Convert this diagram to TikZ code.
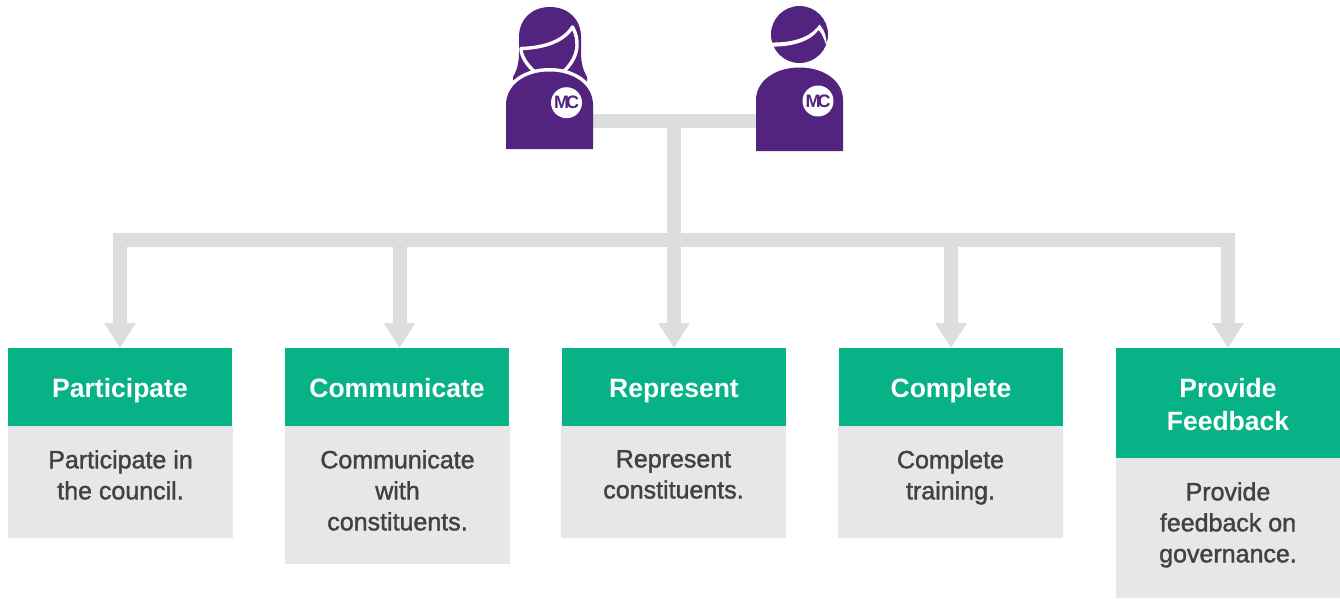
\documentclass[tikz,border=0pt]{standalone}
\usepackage{fontspec}
\setmainfont{Liberation Sans}
\newfontfamily\bodyfont[FakeBold=1.4]{Liberation Sans}
\usetikzlibrary{arrows.meta}
\definecolor{mcpurple}{HTML}{52247F}
\definecolor{mcgreen}{HTML}{08B287}
\definecolor{mcgray}{HTML}{E6E7E8}
\definecolor{mcline}{HTML}{DCDDDE}
\definecolor{mctext}{HTML}{414042}
\tikzset{
  headbox/.style={fill=mcgreen,minimum width=224pt,inner sep=0pt,anchor=north},
  headtext/.style={text=white,inner sep=0pt,anchor=north,align=center,font=\bfseries\fontsize{26.5}{33}\selectfont,execute at begin node=\strut,execute at end node=\strut},
  bodybox/.style={fill=mcgray,minimum width=225pt,inner sep=0pt,anchor=north},
  bodytext/.style={text=mctext,inner sep=0pt,anchor=north,align=center,font=\bodyfont\fontsize{25}{31}\selectfont,execute at begin node=\strut,execute at end node=\strut},
  conn/.style={draw=mcline,line width=14pt},
  connarrow/.style={conn,-{Triangle[length=25pt,width=30pt]}},
  whiteline/.style={draw=white,line width=3.4pt,line join=round},
  logotext/.style={text=mcpurple,inner sep=0pt,font=\bfseries\fontsize{18}{18}\selectfont}
}
\begin{document}
\begin{tikzpicture}[x=1pt,y=-1pt]
    \useasboundingbox (0,0) rectangle (1340,598);
    \coordinate (womanside) at (593,121);
    \coordinate (manside) at (756,121);
    \coordinate (trunktop) at (674,128);
    \coordinate (trunkend) at (674,240);
    \coordinate (bus1) at (120,240);
    \coordinate (bus2) at (399.5,240);
    \coordinate (bus3) at (674,240);
    \coordinate (bus4) at (951,240);
    \coordinate (bus5) at (1228,240);
    % Cajas
    \node[bodybox,minimum height=112pt] (participatebox) at (120.5,426) {};
    \node[bodybox,minimum height=138pt] (communicatebox) at (397.5,426) {};
    \node[bodybox,minimum height=112pt] (representbox) at (673.5,426) {};
    \node[bodybox,minimum height=112pt] (completebox) at (950.5,426) {};
    \node[bodybox,minimum height=140pt,minimum width=224pt] (feedbackbox) at (1228,458) {};
    \node[headbox,minimum height=78pt] (participate) at (120,348) {};
    \node[headbox,minimum height=78pt] (communicate) at (397,348) {};
    \node[headbox,minimum height=78pt] (represent) at (674,348) {};
    \node[headbox,minimum height=78pt] (complete) at (951,348) {};
    \node[headbox,minimum height=110pt] (feedback) at (1228,348) {};
    % Textos
    \node[headtext] (participatehead) at ([yshift=-26.4pt]participate.north) {Participate};
    \node[headtext] (communicatehead) at ([yshift=-26.4pt]communicate.north) {Communicate};
    \node[headtext] (representhead) at ([yshift=-26.4pt]represent.north) {Represent};
    \node[headtext] (completehead) at ([yshift=-26.4pt]complete.north) {Complete};
    \node[headtext] (feedbackhead) at ([yshift=-29.9pt]feedback.north) {Provide\\Feedback};
    \node[bodytext] (participatetext) at ([yshift=-24pt]participatebox.north) {Participate in\\the council.};
    \node[bodytext] (communicatetext) at ([yshift=-24pt]communicatebox.north) {Communicate\\with\\constituents.};
    \node[bodytext] (representtext) at ([yshift=-24pt]representbox.north) {Represent\\constituents.};
    \node[bodytext] (completetext) at ([yshift=-24pt]completebox.north) {Complete\\training.};
    \node[bodytext] (feedbacktext) at ([yshift=-24pt]feedbackbox.north) {Provide\\feedback on\\governance.};
    % Líneas
    \draw[conn] (womanside) -- (manside);
    \draw[conn] (trunktop) -- (trunkend);
    \draw[conn,line cap=rect] (bus1) -- (bus5);
    \draw[connarrow] (bus1) -- (participate.north);
    \draw[connarrow] (bus2) -- (bus2 |- communicate.north);
    \draw[connarrow] (bus3) -- (represent.north);
    \draw[connarrow] (bus4) -- (complete.north);
    \draw[connarrow] (bus5) -- (feedback.north);
    % Mujer
    \fill[mcpurple] (513,77) .. controls (517,70) and (519,63) .. (519,52) -- (519,37)
      .. controls (519,19) and (532,7) .. (550,7) .. controls (568,7) and (581,19) .. (581,37)
      -- (581,52) .. controls (581,63) and (583,70) .. (587,77) -- (587,85) -- (513,85) -- cycle;
    \draw[whiteline] (535,72) .. controls (528,66) and (521,57) .. (521,48.5)
      .. controls (538,48) and (562,44) .. (572.5,27)
      .. controls (576,33) and (577,39) .. (577,45) .. controls (577,55) and (571,65) .. (563,72);
    \draw[white,line width=7pt] (506,105) .. controls (506,85) and (525,71.5) .. (549.5,71.5)
      .. controls (574,71.5) and (593,85) .. (593,105);
    \fill[mcpurple] (506,149) -- (506,105)
      .. controls (506,85) and (525,71.5) .. (549.5,71.5) .. controls (574,71.5) and (593,85) .. (593,105)
      -- (593,149) -- cycle;
    \fill[white] (566.5,102.7) circle[radius=15.5];
    \node[logotext] (womanlogo) at (566.5,102.7) {M\kern-3ptC};
    % Hombre
    \fill[mcpurple] (799.5,34.5) circle[radius=28.5];
    \fill[white] (770,42.5) .. controls (792,43) and (810,38) .. (819.5,24.5)
      .. controls (825,31) and (827,38) .. (826.5,46) .. controls (824,39) and (822,33) .. (818.5,30)
      .. controls (810,42) and (790,47) .. (772,46.5) -- cycle;
    \fill[mcpurple] (756,151) -- (756,100) .. controls (756,81) and (775,67.5) .. (799.5,67.5)
      .. controls (824,67.5) and (843,81) .. (843,100) -- (843,151) -- cycle;
    \fill[white] (818,101) circle[radius=15.5];
    \node[logotext] (manlogo) at (818,101) {M\kern-3ptC};
  \end{tikzpicture}
\end{document}
